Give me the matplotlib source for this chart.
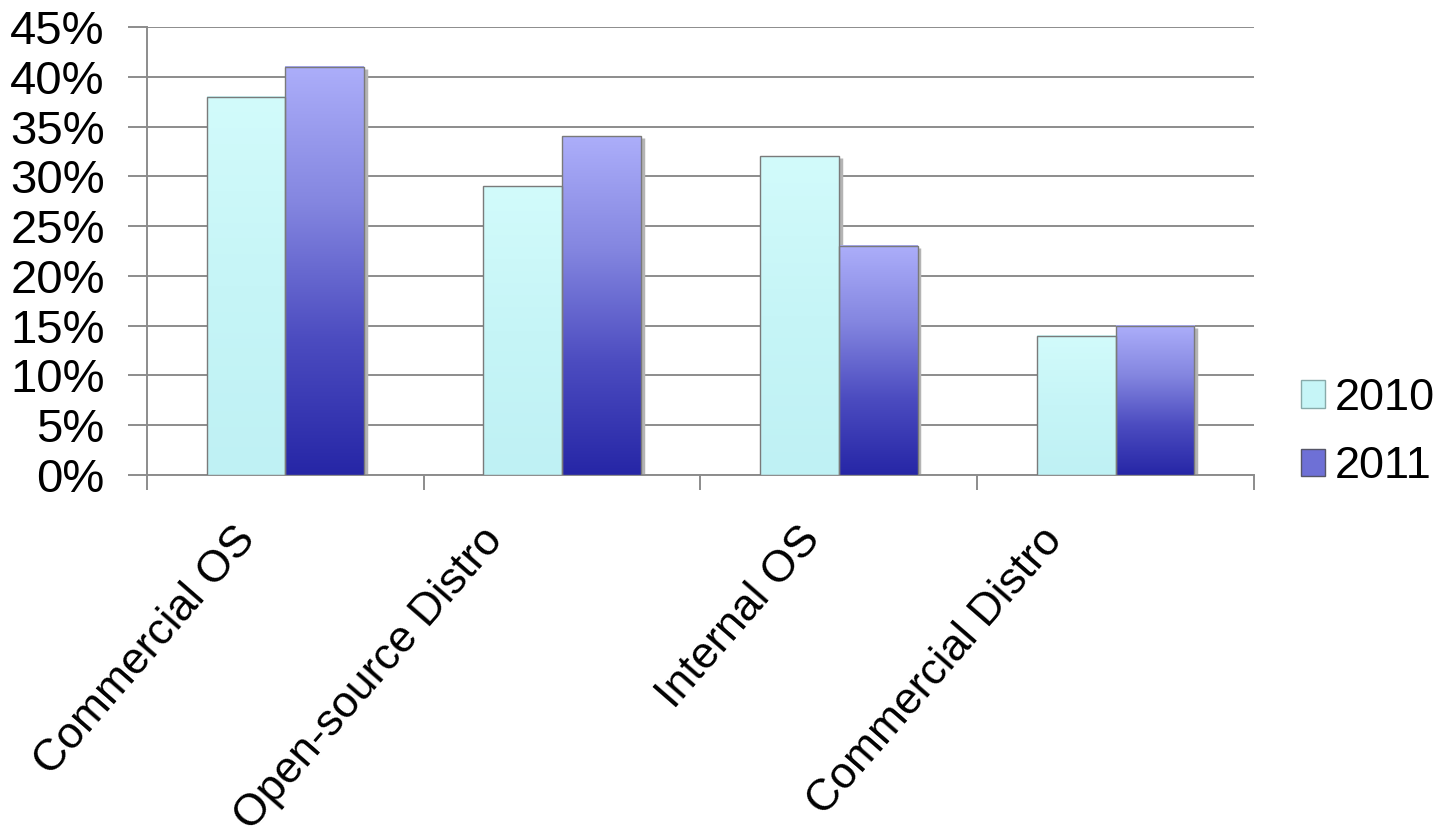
import numpy as np
import matplotlib
matplotlib.use("Agg")
import matplotlib.pyplot as plt
import matplotlib.transforms as mtransforms
from matplotlib.colors import LinearSegmentedColormap
from matplotlib.patches import Patch
from matplotlib.ticker import FixedLocator, PercentFormatter

plt.rcParams['font.family'] = ['Liberation Sans', 'DejaVu Sans']

categories = ["Commercial OS", "Open-source Distro", "Internal OS", "Commercial Distro"]
series_names = ["2010", "2011"]
vals_2010 = [0.38, 0.29, 0.32, 0.14]
vals_2011 = [0.41, 0.34, 0.23, 0.15]

# top -> bottom colours of each bar's gradient
CMAP_2010 = LinearSegmentedColormap.from_list("c2010", ["#d2fbfb", "#c6f5f7", "#bff1f4"])
CMAP_2011 = LinearSegmentedColormap.from_list("c2011", ["#acaefa", "#8486e0", "#4c4cc0", "#2626a6"])
GRID = "#8c8c8c"

fig = plt.figure(figsize=(14.5, 8.35), dpi=100)
ax = fig.add_axes([0.1014, 0.4311, 0.7634, 0.5366])

x = np.arange(len(categories))
w = 0.285
grad = np.linspace(0, 1, 256).reshape(-1, 1)

for vals, off, cmap in [(vals_2010, -w / 2, CMAP_2010), (vals_2011, w / 2, CMAP_2011)]:
    bars = ax.bar(x + off, vals, w, facecolor="none", edgecolor="#7a7a7a", linewidth=1.0, zorder=4)
    for b in bars:
        x0, y0 = b.get_x(), b.get_y()
        x1, y1 = x0 + b.get_width(), y0 + b.get_height()
        ax.imshow(grad, cmap=cmap, aspect="auto", extent=(x0, x1, y0, y1),
                  origin="upper", zorder=3, interpolation="bicubic")
        # soft shadow on the right
        ax.plot([x1 + 0.006, x1 + 0.006], [y0, y1 - 0.002], color="#b4b4b4", lw=2.5, zorder=2,
                solid_capstyle="butt")

ax.set_xlim(-0.5, len(categories) - 0.5)
ax.set_ylim(0, 0.45)
ax.yaxis.set_major_locator(FixedLocator(np.arange(0, 0.451, 0.05)))
ax.yaxis.set_major_formatter(PercentFormatter(1.0, decimals=0))
ax.grid(axis="y", color=GRID, linewidth=1.4, zorder=0)
ax.set_axisbelow(True)

# tick marks sit on the category boundaries
ax.set_xticks(np.arange(-0.5, len(categories), 1.0))
ax.set_xticklabels([])
ax.tick_params(axis="x", length=11, width=1.4, color=GRID)
ax.tick_params(axis="y", length=14, width=1.4, color=GRID, labelsize=34, pad=16.5)

# rotated category labels; longer labels sit further left, as in the original
for xi, name in zip(x, categories):
    dx = (39 - 5.86 * len(name)) / 100.0
    tr = ax.get_xaxis_transform() + mtransforms.ScaledTranslation(dx, -0.58, fig.dpi_scale_trans)
    ax.text(xi, 0, name, transform=tr, rotation=49, rotation_mode="anchor",
            ha="right", va="center", fontsize=32)

for s in ["top", "right"]:
    ax.spines[s].set_visible(False)
ax.spines["left"].set_color(GRID)
ax.spines["left"].set_linewidth(1.4)
ax.spines["bottom"].set_color(GRID)
ax.spines["bottom"].set_linewidth(1.4)

handles = [Patch(facecolor="#c6f5f7", edgecolor="#8aa"),
           Patch(facecolor="#6e70d6", edgecolor="#556")]
fig.legend(handles, series_names, loc="center left", bbox_to_anchor=(0.897, 0.482),
           frameon=False, fontsize=32.5, handlelength=0.55, handleheight=0.55,
           handletextpad=0.2, labelspacing=0.6, borderaxespad=0, borderpad=0)

fig.savefig("out.png", dpi=100)
